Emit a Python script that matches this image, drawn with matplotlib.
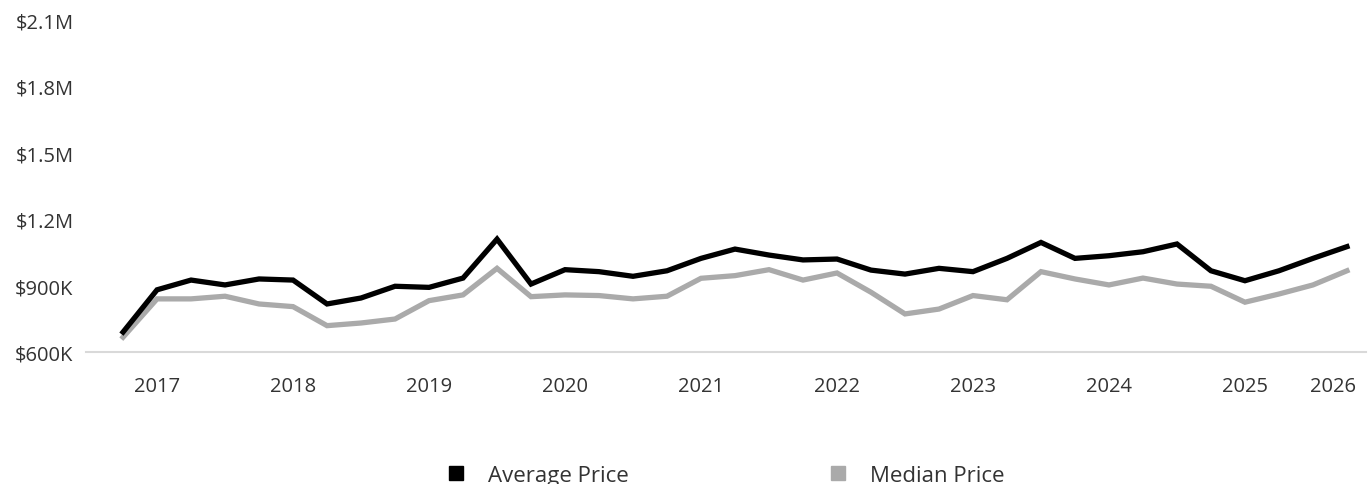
import matplotlib
matplotlib.use("Agg")
import matplotlib.pyplot as plt
from matplotlib.lines import Line2D
from matplotlib.ticker import FuncFormatter

plt.rcParams["font.family"] = ["Open Sans", "DejaVu Sans"]

# quarterly, Q4 2016 .. Q1 2026, values in $K
average_price = [690, 881, 925, 903, 930, 925, 817, 844, 897, 892,
                 934, 1110, 907, 972, 963, 942, 967, 1023, 1065, 1038,
                 1016, 1020, 970, 952, 978, 963, 1023, 1095, 1023, 1035,
                 1053, 1088, 967, 922, 967, 1023, 1076]
median_price = [667, 840, 840, 852, 817, 805, 719, 731, 749, 832,
                858, 978, 850, 858, 855, 840, 852, 933, 945, 972,
                925, 957, 870, 772, 794, 855, 836, 963, 930, 903,
                934, 907, 897, 825, 862, 903, 967]
year_labels = ["2017", "2018", "2019", "2020", "2021", "2022", "2023",
               "2024", "2025", "2026"]
year_pos = [1, 5, 9, 13, 17, 21, 25, 29, 33, 35.6]
y_ticks = [600, 900, 1200, 1500, 1800, 2100]


def money(v, _):
    if v >= 1000:
        return f"${v / 1000:.1f}M"
    return f"${v:.0f}K"


fig = plt.figure(figsize=(13.69, 4.85), dpi=100)
ax = fig.add_axes([86 / 1369, 132 / 485, 1280 / 1369, 332 / 485])

x = list(range(len(average_price)))
ax.plot(x, median_price, color="#aaaaaa", lw=3.8, solid_joinstyle="miter")
ax.plot(x, average_price, color="#000000", lw=3.8, solid_joinstyle="miter")

ax.set_xlim(-1.09, 36.56)
ax.set_ylim(600, 2100)
ax.set_yticks(y_ticks)
ax.yaxis.set_major_formatter(FuncFormatter(money))
ax.set_xticks(year_pos)
ax.set_xticklabels(year_labels)

for s in ["top", "right", "left"]:
    ax.spines[s].set_visible(False)
ax.spines["bottom"].set_color("#d9d9d9")
ax.spines["bottom"].set_linewidth(1.5)
ax.tick_params(axis="both", length=0, labelsize=14.5, colors="#333333")
ax.tick_params(axis="x", pad=17)
ax.tick_params(axis="y", pad=9)

handles = [
    Line2D([], [], ls="none", marker="s", ms=10, color="#000000"),
    Line2D([], [], ls="none", marker="s", ms=10, color="#aaaaaa"),
]
fig.legend(handles, ["Average Price", "Median Price"], loc="lower center",
           bbox_to_anchor=(0.5255, -0.045), ncol=2, frameon=False,
           fontsize=16, handletextpad=0.45, columnspacing=8.4,
           labelcolor="#333333")

fig.savefig("out.png", dpi=100)
